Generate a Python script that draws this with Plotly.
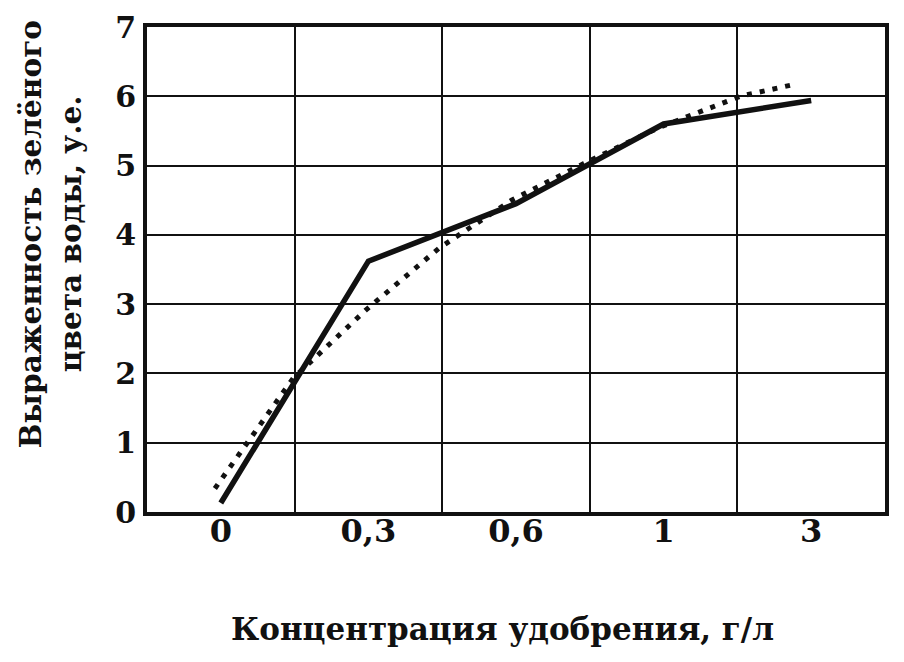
import plotly.graph_objects as go

# categories on the x axis (equally spaced, not to scale)
concentrations = ["0", "0,3", "0,6", "1", "3"]
# solid line: measured green colour of the water
green_values = [0.13, 3.62, 4.45, 5.6, 5.94]
# dotted trend line (x in category units)
trend_x = [-0.04, 0.49, 0.98, 1.48, 1.97, 2.46, 2.97, 3.52, 3.86]
trend_y = [0.34, 1.93, 2.91, 3.81, 4.50, 5.03, 5.55, 6.00, 6.16]
y_ticks = [0, 1, 2, 3, 4, 5, 6, 7]

FONT = "DejaVu Serif"
BLACK = "#111111"

cat_pos = list(range(len(concentrations)))

fig = go.Figure()
fig.add_trace(go.Scatter(x=trend_x, y=trend_y, mode="lines",
                         line=dict(color=BLACK, width=5, dash="5px,8px"),
                         showlegend=False, hoverinfo="skip"))
fig.add_trace(go.Scatter(x=cat_pos, y=green_values, mode="lines",
                         line=dict(color=BLACK, width=5.5),
                         showlegend=False))

# page body adds ~8px, margins compensate for it
fig.update_layout(
    width=904, height=662,
    margin=dict(l=139, r=27, t=19, b=158),
    plot_bgcolor="white", paper_bgcolor="white",
    font=dict(family=FONT, size=32, color=BLACK, weight="bold"),
    xaxis=dict(range=[-0.5, 4.5], tickmode="array", tickvals=cat_pos,
               ticktext=concentrations, showgrid=False, zeroline=False,
               showline=True, mirror=True, linecolor=BLACK, linewidth=4,
               ticks="", ticklabelstandoff=-12, automargin=False,
               minor=dict(tickmode="array", tickvals=[0.5, 1.5, 2.5, 3.5],
                          showgrid=True, gridcolor=BLACK, gridwidth=2, ticks="")),
    yaxis=dict(range=[0, 7], tickmode="array", tickvals=y_ticks,
               showgrid=True, gridcolor=BLACK, gridwidth=2, zeroline=False,
               showline=True, mirror=True, linecolor=BLACK, linewidth=4,
               ticks="", ticklabelstandoff=1, ticklabeloverflow="allow",
               tickfont=dict(size=30), automargin=False),
    annotations=[
        dict(text="Концентрация удобрения, г/л", xref="paper", yref="paper",
             x=0.482, y=-0.241, yanchor="middle", showarrow=False,
             font=dict(size=31)),
        dict(text="Выраженность зелёного", xref="paper", yref="paper",
             x=-0.158, y=0.573, xanchor="center", yanchor="middle",
             textangle=-90, showarrow=False, font=dict(size=29.5)),
        dict(text="цвета воды, у.е.", xref="paper", yref="paper",
             x=-0.104, y=0.573, xanchor="center", yanchor="middle",
             textangle=-90, showarrow=False, font=dict(size=29.5)),
    ],
)

fig.write_html("out.html")
